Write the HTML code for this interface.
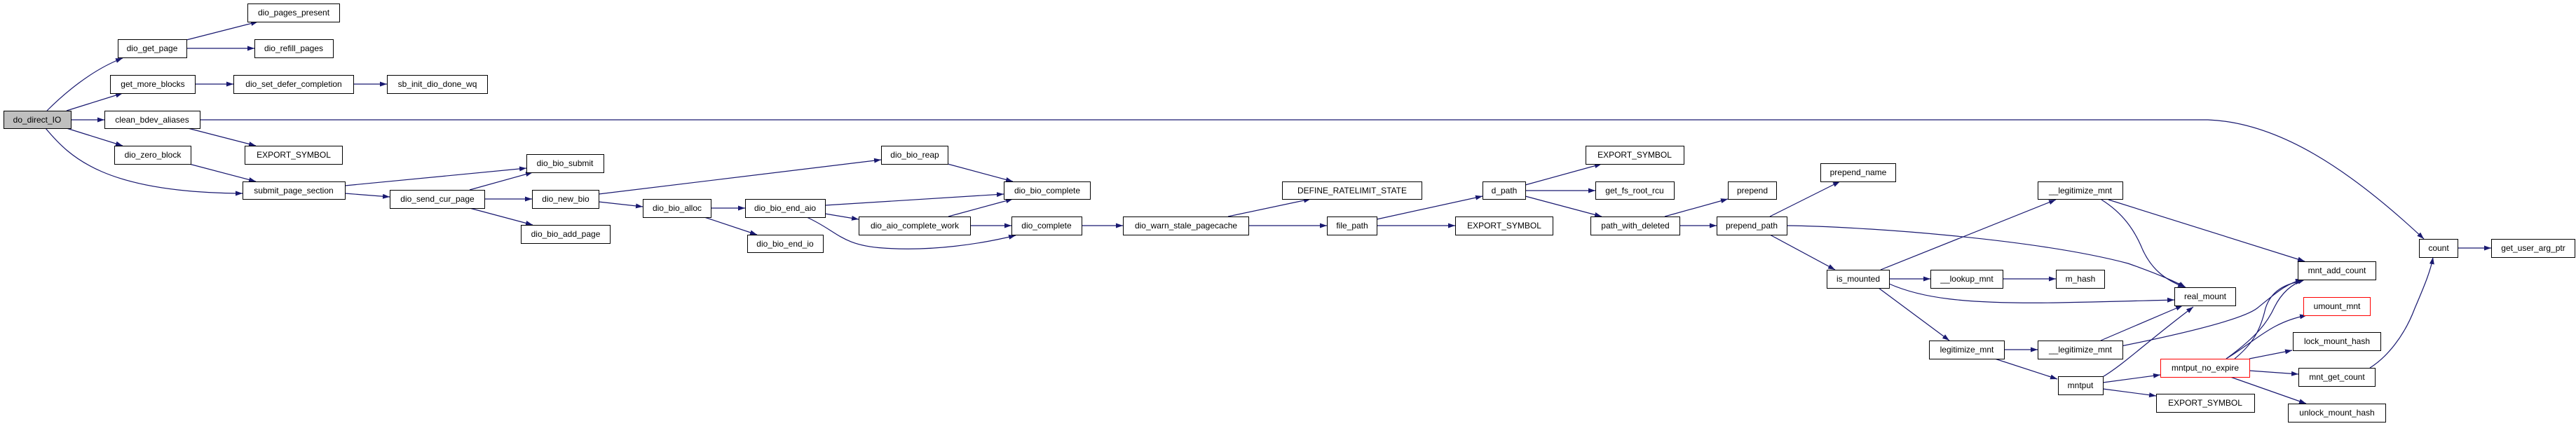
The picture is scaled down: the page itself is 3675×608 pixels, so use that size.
<!DOCTYPE html>
<html><head><meta charset="utf-8"><style>
html,body{margin:0;padding:0;background:#fff;width:3675px;height:608px;overflow:hidden}
svg text{font-family:"Liberation Sans",Arial,sans-serif;font-size:12px;fill:#000}
</style></head><body>
<svg width="3675" height="608" viewBox="0 0 3675 608" xmlns="http://www.w3.org/2000/svg">
<defs><marker id="a" markerUnits="userSpaceOnUse" markerWidth="11" markerHeight="8" refX="10" refY="3.5" orient="auto"><path d="M0,0 L10,3.5 L0,7 z" fill="#191970"/></marker></defs>
<g fill="none" stroke="#191970" stroke-width="1.2" marker-end="url(#a)">
<path d="M67,158 C90,135 130,100 175,83"/>
<path d="M95,158 L175,133"/>
<path d="M101,171 L149,171"/>
<path d="M95,183 L175,208"/>
<path d="M65,183 C100,225 150,275 346,276"/>
<path d="M266,57 L368,31"/>
<path d="M266,69 L363,69"/>
<path d="M278,120 L333,120"/>
<path d="M504,120 L552,120"/>
<path d="M285,171 L3150,171 C3250,175 3350,240 3458,341"/>
<path d="M268,183 L365,208"/>
<path d="M270,234 L365,259"/>
<path d="M492,265 L751,240"/>
<path d="M492,276 L556,281"/>
<path d="M670,271 L760,246"/>
<path d="M691,284 L759,284"/>
<path d="M670,297 L760,321"/>
<path d="M854,277 L1257,228"/>
<path d="M854,288 L917,295"/>
<path d="M1014,297 L1063,297"/>
<path d="M1005,310 L1080,335"/>
<path d="M1352,234 L1445,259"/>
<path d="M1177,293 L1432,277"/>
<path d="M1177,305 L1225,313"/>
<path d="M1151,310 C1195,330 1200,350 1260,354 C1330,359 1400,348 1449,336"/>
<path d="M1353,309 L1445,284"/>
<path d="M1384,322 L1443,322"/>
<path d="M1543,322 L1602,322"/>
<path d="M1752,309 L1870,284"/>
<path d="M1781,322 L1893,322"/>
<path d="M1964,313 L2115,280"/>
<path d="M1964,322 L2076,322"/>
<path d="M2176,264 L2285,234"/>
<path d="M2176,272 L2276,272"/>
<path d="M2176,280 L2285,309"/>
<path d="M2375,309 L2465,284"/>
<path d="M2396,322 L2449,322"/>
<path d="M2525,309 L2625,259"/>
<path d="M2525,335 L2618,385"/>
<path d="M2549,322 C2650,323 2900,340 3036,376 C3070,388 3100,400 3118,410"/>
<path d="M2683,385 L2933,285"/>
<path d="M2695,398 L2754,398"/>
<path d="M2695,405 C2740,425 2800,434 2936,432 C3000,431 3060,429 3102,428"/>
<path d="M2680,411 L2781,486"/>
<path d="M2857,398 L2933,398"/>
<path d="M2998,285 C3030,305 3045,330 3054,350 C3068,385 3090,400 3117,410"/>
<path d="M3008,285 L3288,373"/>
<path d="M2859,499 L2907,499"/>
<path d="M2846,512 L2935,541"/>
<path d="M2997,486 L3114,436"/>
<path d="M3026,494 C3120,475 3200,455 3220,440 C3245,420 3260,405 3285,399"/>
<path d="M2998,539 C3030,520 3060,490 3129,438"/>
<path d="M3000,546 L3082,535"/>
<path d="M3000,555 L3076,565"/>
<path d="M3176,512 C3220,480 3235,460 3245,438 C3255,418 3270,405 3288,399"/>
<path d="M3188,512 C3215,490 3225,470 3232,440 C3240,415 3260,405 3285,401"/>
<path d="M3176,512 C3220,485 3240,460 3291,450"/>
<path d="M3209,512 L3270,500"/>
<path d="M3209,529 L3279,534"/>
<path d="M3182,538 L3290,576"/>
<path d="M3381,525 C3405,510 3430,480 3445,440 C3460,405 3468,385 3471,367"/>
<path d="M3506,354 L3554,354"/>
</g>
<g stroke="#000" stroke-width="1" fill="#fff">
<rect x="5.5" y="158.5" width="96" height="25" fill="#bfbfbf"/>
<rect x="168.5" y="56.5" width="98" height="26"/>
<rect x="353.5" y="5.5" width="131" height="26"/>
<rect x="363.5" y="56.5" width="112" height="26"/>
<rect x="157.5" y="107.5" width="121" height="26"/>
<rect x="333.5" y="107.5" width="171" height="26"/>
<rect x="552.5" y="107.5" width="143" height="26"/>
<rect x="149.5" y="158.5" width="136" height="25"/>
<rect x="163.5" y="208.5" width="109" height="26"/>
<rect x="349.5" y="208.5" width="139" height="26"/>
<rect x="751.5" y="220.5" width="110" height="26"/>
<rect x="346.5" y="259.5" width="146" height="25"/>
<rect x="556.5" y="271.5" width="135" height="26"/>
<rect x="759.5" y="271.5" width="95" height="26"/>
<rect x="743.5" y="321.5" width="127" height="26"/>
<rect x="917.5" y="284.5" width="97" height="26"/>
<rect x="1063.5" y="284.5" width="114" height="26"/>
<rect x="1066.5" y="335.5" width="108" height="25"/>
<rect x="1257.5" y="208.5" width="95" height="26"/>
<rect x="1432.5" y="259.5" width="123" height="25"/>
<rect x="1225.5" y="309.5" width="159" height="26"/>
<rect x="1443.5" y="309.5" width="100" height="26"/>
<rect x="1602.5" y="309.5" width="179" height="26"/>
<rect x="1829.5" y="259.5" width="199" height="25"/>
<rect x="1893.5" y="309.5" width="71" height="26"/>
<rect x="2076.5" y="309.5" width="139" height="26"/>
<rect x="2115.5" y="259.5" width="61" height="25"/>
<rect x="2262.5" y="208.5" width="140" height="26"/>
<rect x="2276.5" y="259.5" width="112" height="25"/>
<rect x="2269.5" y="309.5" width="127" height="26"/>
<rect x="2465.5" y="259.5" width="69" height="25"/>
<rect x="2449.5" y="309.5" width="100" height="26"/>
<rect x="2597.5" y="233.5" width="107" height="26"/>
<rect x="2606.5" y="385.5" width="89" height="26"/>
<rect x="2907.5" y="259.5" width="121" height="25"/>
<rect x="3451.5" y="341.5" width="55" height="26"/>
<rect x="3554.5" y="341.5" width="119" height="26"/>
<rect x="3278.5" y="373.5" width="111" height="26"/>
<rect x="2754.5" y="385.5" width="103" height="26"/>
<rect x="2933.5" y="385.5" width="69" height="26"/>
<rect x="3102.5" y="410.5" width="87" height="26"/>
<rect x="3286.5" y="424.5" width="95" height="26" stroke="#ff0000"/>
<rect x="3271.5" y="474.5" width="125" height="26"/>
<rect x="2752.5" y="486.5" width="107" height="26"/>
<rect x="2907.5" y="486.5" width="121" height="26"/>
<rect x="3082.5" y="512.5" width="127" height="26" stroke="#ff0000"/>
<rect x="3279.5" y="525.5" width="109" height="26"/>
<rect x="2936.5" y="537.5" width="64" height="26"/>
<rect x="3076.5" y="562.5" width="140" height="26"/>
<rect x="3264.5" y="576.5" width="139" height="26"/>
</g>
<g text-anchor="middle" dominant-baseline="central">
<text x="53" y="171">do_direct_IO</text>
<text x="217" y="69">dio_get_page</text>
<text x="419" y="18">dio_pages_present</text>
<text x="419" y="69">dio_refill_pages</text>
<text x="218" y="120">get_more_blocks</text>
<text x="419" y="120">dio_set_defer_completion</text>
<text x="624" y="120">sb_init_dio_done_wq</text>
<text x="217" y="171">clean_bdev_aliases</text>
<text x="218" y="221">dio_zero_block</text>
<text x="419" y="221">EXPORT_SYMBOL</text>
<text x="806" y="233">dio_bio_submit</text>
<text x="419" y="272">submit_page_section</text>
<text x="624" y="284">dio_send_cur_page</text>
<text x="807" y="284">dio_new_bio</text>
<text x="807" y="334">dio_bio_add_page</text>
<text x="966" y="297">dio_bio_alloc</text>
<text x="1120" y="297">dio_bio_end_aio</text>
<text x="1120" y="348">dio_bio_end_io</text>
<text x="1305" y="221">dio_bio_reap</text>
<text x="1494" y="272">dio_bio_complete</text>
<text x="1305" y="322">dio_aio_complete_work</text>
<text x="1493" y="322">dio_complete</text>
<text x="1692" y="322">dio_warn_stale_pagecache</text>
<text x="1929" y="272">DEFINE_RATELIMIT_STATE</text>
<text x="1929" y="322">file_path</text>
<text x="2146" y="322">EXPORT_SYMBOL</text>
<text x="2146" y="272">d_path</text>
<text x="2332" y="221">EXPORT_SYMBOL</text>
<text x="2332" y="272">get_fs_root_rcu</text>
<text x="2333" y="322">path_with_deleted</text>
<text x="2500" y="272">prepend</text>
<text x="2499" y="322">prepend_path</text>
<text x="2651" y="246">prepend_name</text>
<text x="2651" y="398">is_mounted</text>
<text x="2968" y="272">__legitimize_mnt</text>
<text x="3479" y="354">count</text>
<text x="3614" y="354">get_user_arg_ptr</text>
<text x="3334" y="386">mnt_add_count</text>
<text x="2806" y="398">__lookup_mnt</text>
<text x="2968" y="398">m_hash</text>
<text x="3146" y="423">real_mount</text>
<text x="3334" y="437">umount_mnt</text>
<text x="3334" y="487">lock_mount_hash</text>
<text x="2806" y="499">legitimize_mnt</text>
<text x="2968" y="499">__legitimize_mnt</text>
<text x="3146" y="525">mntput_no_expire</text>
<text x="3334" y="538">mnt_get_count</text>
<text x="2968" y="550">mntput</text>
<text x="3146" y="575">EXPORT_SYMBOL</text>
<text x="3334" y="589">unlock_mount_hash</text>
</g>
</svg>
</body></html>
